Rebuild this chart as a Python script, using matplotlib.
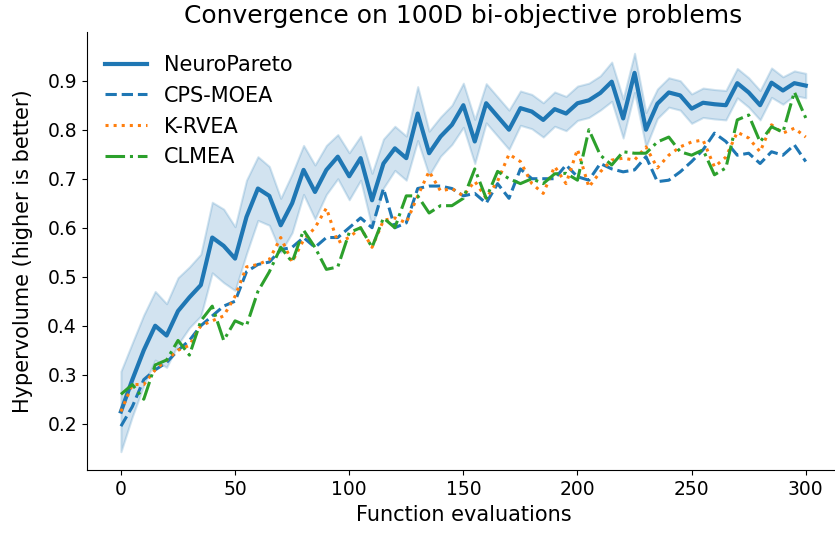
import numpy as np
import matplotlib
matplotlib.use("Agg")
import matplotlib.pyplot as plt

evals = list(range(0, 301, 5))

neuro = [0.225,0.29,0.35,0.40,0.38,0.43,0.458,0.483,0.58,0.563,0.537,0.622,0.68,0.665,0.605,0.65,
         0.718,0.673,0.718,0.745,0.705,0.742,0.656,0.731,0.762,0.742,0.833,0.752,0.786,0.81,0.85,
         0.776,0.854,0.827,0.80,0.844,0.837,0.82,0.842,0.833,0.854,0.86,0.875,0.898,0.823,0.916,
         0.80,0.853,0.876,0.87,0.843,0.855,0.852,0.85,0.895,0.876,0.85,0.896,0.88,0.895,0.89]
neuro_hw = [0.082,0.075,0.072,0.07,0.065,0.068,0.062,0.063,0.072,0.075,0.065,0.075,0.065,0.06,0.055,
            0.06,0.05,0.055,0.05,0.045,0.048,0.045,0.055,0.05,0.045,0.045,0.055,0.045,0.04,0.04,
            0.045,0.045,0.04,0.04,0.04,0.035,0.035,0.035,0.035,0.035,0.035,0.035,0.035,0.04,0.04,
            0.04,0.035,0.03,0.03,0.03,0.03,0.03,0.03,0.03,0.03,0.03,0.03,0.03,0.028,0.025,0.025]
cps = [0.195,0.235,0.29,0.31,0.325,0.35,0.37,0.40,0.42,0.44,0.45,0.51,0.525,0.53,0.555,0.56,0.58,
       0.56,0.58,0.58,0.60,0.62,0.60,0.68,0.60,0.61,0.68,0.685,0.685,0.68,0.665,0.67,0.65,0.69,
       0.66,0.72,0.70,0.70,0.70,0.728,0.704,0.697,0.731,0.72,0.714,0.718,0.745,0.694,0.697,0.714,
       0.735,0.759,0.793,0.776,0.748,0.752,0.731,0.755,0.748,0.769,0.735]
krvea = [0.225,0.28,0.28,0.31,0.33,0.35,0.36,0.40,0.41,0.42,0.46,0.52,0.525,0.535,0.58,0.53,0.575,
         0.60,0.64,0.57,0.58,0.60,0.56,0.615,0.62,0.61,0.665,0.715,0.675,0.68,0.665,0.695,0.66,
         0.695,0.75,0.735,0.69,0.67,0.725,0.69,0.76,0.683,0.714,0.738,0.742,0.738,0.765,0.722,
         0.748,0.765,0.775,0.779,0.724,0.744,0.795,0.783,0.755,0.81,0.793,0.803,0.785]
clmea = [0.26,0.28,0.25,0.32,0.33,0.37,0.34,0.41,0.44,0.37,0.41,0.40,0.47,0.51,0.56,0.53,0.595,
         0.56,0.515,0.52,0.59,0.60,0.56,0.62,0.60,0.665,0.665,0.63,0.645,0.645,0.66,0.72,0.66,
         0.715,0.70,0.69,0.70,0.69,0.71,0.711,0.697,0.80,0.748,0.728,0.755,0.752,0.752,0.775,
         0.785,0.755,0.748,0.759,0.708,0.722,0.82,0.83,0.775,0.806,0.795,0.877,0.824]

labels = ["NeuroPareto", "CPS-MOEA", "K-RVEA", "CLMEA"]
title = "Convergence on 100D bi-objective problems"
xlabel = "Function evaluations"
ylabel = "Hypervolume (higher is better)"

fig = plt.figure(figsize=(8.35, 5.36), dpi=100)
ax = fig.add_axes([86.7/835, (536-470.3)/536, (840-86.7)/835, (470.3-31.7)/536])

x = np.array(evals)
n = np.array(neuro)
hw = np.array(neuro_hw)
ax.fill_between(x, n - hw, n + hw, color="tab:blue", alpha=0.2, linewidth=1.5)
ax.plot(x, n, color="tab:blue", lw=3, ls="-", label=labels[0])
ax.plot(x, cps, color="tab:blue", lw=2.2, ls="--", label=labels[1])
ax.plot(x, krvea, color="tab:orange", lw=2.2, ls=":", label=labels[2])
ax.plot(x, clmea, color="tab:green", lw=2.2, ls="-.", label=labels[3])

ax.set_xlim(-15, 315)
ax.set_ylim(0.105, 1.0)
ax.set_xticks([0, 50, 100, 150, 200, 250, 300])
ax.set_yticks([0.2, 0.3, 0.4, 0.5, 0.6, 0.7, 0.8, 0.9])
ax.tick_params(labelsize=13.5)
ax.spines["top"].set_visible(False)
ax.spines["right"].set_visible(False)
ax.set_title(title, fontsize=18)
ax.set_xlabel(xlabel, fontsize=15)
ax.set_ylabel(ylabel, fontsize=15, labelpad=10)
ax.legend(loc="upper left", bbox_to_anchor=(0.0, 0.99), frameon=False,
          fontsize=15, labelspacing=0.52)

fig.savefig("out.png", dpi=100)
